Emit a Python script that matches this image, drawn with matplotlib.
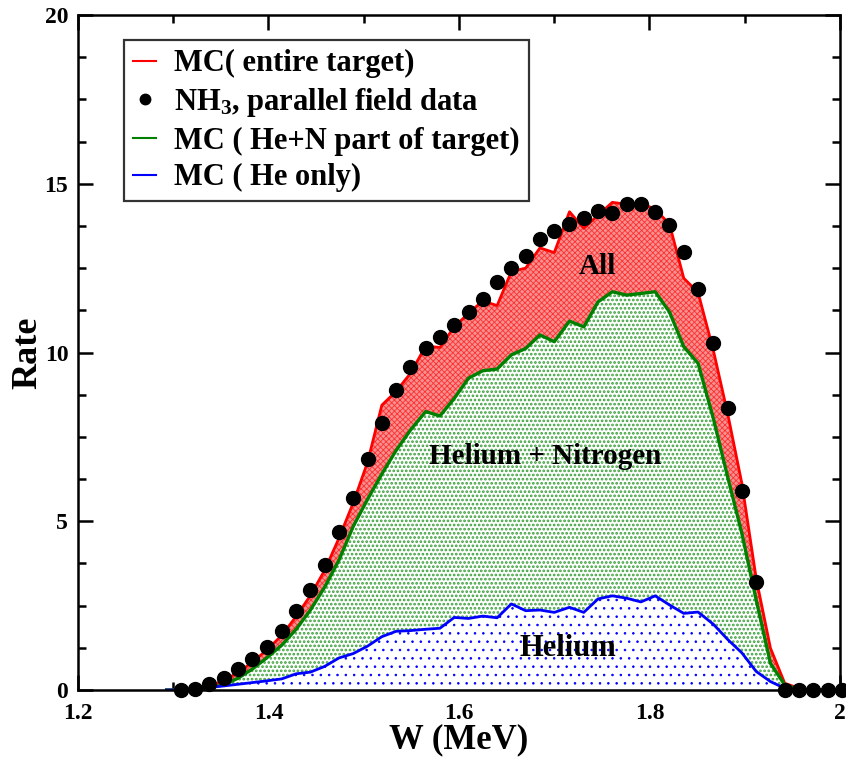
import numpy as np
import matplotlib.pyplot as plt
from matplotlib.ticker import MultipleLocator, FixedLocator, FixedFormatter

plt.rcParams['font.family'] = ['Liberation Serif', 'DejaVu Serif']
plt.rcParams['font.weight'] = 'bold'
plt.rcParams['mathtext.fontset'] = 'custom'
plt.rcParams['mathtext.rm'] = 'Liberation Serif:bold'
plt.rcParams['mathtext.bf'] = 'Liberation Serif:bold'
plt.rcParams['mathtext.default'] = 'rm'
plt.rcParams['hatch.linewidth'] = 0.6

# NH3 parallel field data
w_data = [1.308, 1.323, 1.338, 1.353, 1.368, 1.383, 1.398, 1.414, 1.429, 1.444,
          1.459, 1.474, 1.489, 1.504, 1.519, 1.534, 1.549, 1.565, 1.580, 1.595,
          1.610, 1.625, 1.640, 1.655, 1.670, 1.685, 1.700, 1.716, 1.731, 1.746,
          1.761, 1.776, 1.791, 1.806, 1.821, 1.836, 1.851, 1.867, 1.882, 1.897,
          1.912, 1.942, 1.957, 1.972, 1.987, 2.002]
rate_data = [0.0, 0.04, 0.18, 0.35, 0.61, 0.91, 1.28, 1.75, 2.33, 2.96,
             3.69, 4.68, 5.69, 6.83, 7.92, 8.89, 9.57, 10.12, 10.45, 10.82,
             11.21, 11.58, 12.09, 12.51, 12.85, 13.35, 13.61, 13.81, 14.0, 14.2,
             14.14, 14.4, 14.4, 14.17, 13.78, 12.97, 11.88, 10.27, 8.36, 5.89,
             3.19, 0.0, 0.0, 0.0, 0.0, 0.0]

# Monte Carlo, same binning
w_mc = [1.293, 1.308, 1.323, 1.338, 1.353, 1.368, 1.383, 1.398, 1.414, 1.429, 1.444,
        1.459, 1.474, 1.489, 1.504, 1.519, 1.534, 1.549, 1.565, 1.580, 1.595,
        1.610, 1.625, 1.640, 1.655, 1.670, 1.685, 1.700, 1.716, 1.731, 1.746,
        1.761, 1.776, 1.791, 1.806, 1.821, 1.836, 1.851, 1.867, 1.882, 1.897,
        1.912, 1.927, 1.942, 1.957, 1.972, 1.987, 2.0]
mc_all = [0.0, 0.0, 0.03, 0.12, 0.28, 0.52, 0.82, 1.18, 1.62, 2.18, 2.8,
          3.55, 4.5, 5.55, 6.75, 8.44, 8.85, 9.38, 10.19, 10.15, 10.76,
          11.16, 11.53, 11.39, 12.4, 12.5, 13.1, 12.96, 14.17, 13.68, 14.07,
          14.45, 14.39, 14.42, 14.25, 13.8, 12.2, 11.78, 10.07, 8.2, 6.12,
          3.31, 1.24, 0.2, 0.05, 0.0, 0.0, 0.0]
mc_hen = [0.0, 0.0, 0.02, 0.07, 0.15, 0.35, 0.62, 0.95, 1.33, 1.8, 2.37,
          3.05, 3.85, 4.85, 5.65, 6.4, 7.1, 7.7, 8.25, 8.12, 8.64,
          9.24, 9.46, 9.51, 9.93, 10.12, 10.52, 10.32, 10.93, 10.76, 11.5,
          11.8, 11.7, 11.75, 11.8, 11.2, 10.17, 9.68, 8.05, 6.32, 4.64,
          2.67, 0.79, 0.15, 0.02, 0.0, 0.0, 0.0]
mc_he = [0.0, 0.0, 0.03, 0.08, 0.12, 0.17, 0.22, 0.27, 0.33, 0.48, 0.53,
         0.7, 0.95, 1.08, 1.3, 1.58, 1.74, 1.76, 1.8, 1.83, 2.15,
         2.12, 2.19, 2.14, 2.55, 2.35, 2.37, 2.3, 2.45, 2.3, 2.7,
         2.79, 2.72, 2.61, 2.79, 2.52, 2.27, 2.31, 1.95, 1.5, 1.1,
         0.55, 0.25, 0.05, 0.0, 0.0, 0.0, 0.0]

fig = plt.figure(figsize=(8.46, 7.58), dpi=100)
ax = fig.add_axes([0.0922, 0.0897, 0.9007, 0.8905])

ax.fill_between(w_mc, 0, mc_all, facecolor='#f59090', edgecolor='#ff3030',
                hatch='xxxxxx', linewidth=0, zorder=1)
with plt.rc_context({'hatch.linewidth': 1.3}):
    ax.fill_between(w_mc, 0, mc_hen, facecolor='white', edgecolor='#3aa03a',
                    hatch='....', linewidth=0, zorder=2)
ax.fill_between(w_mc, 0, mc_he, facecolor='white', edgecolor='blue',
                hatch='..', linewidth=0, zorder=3)

ax.plot(w_mc, mc_all, color='red', lw=2.0, label='MC( entire target)', zorder=4)
ax.plot(w_data, rate_data, 'o', color='black', ms=10, clip_on=False,
        label=r'NH$_3$, parallel field data', zorder=7)
ax.plot(w_mc, mc_hen, color='green', lw=2.4, label='MC ( He+N part of target)', zorder=5)
ax.plot(w_mc, mc_he, color='blue', lw=2.0, label='MC ( He only)', zorder=6)

ax.text(1.745, 12.55, 'All', fontsize=21, fontweight='bold', ha='center', va='center', zorder=8)
ax.text(1.691, 6.93, 'Helium + Nitrogen', fontsize=21, fontweight='bold',
        ha='center', va='center', zorder=8)
ax.text(1.714, 1.24, 'Helium', fontsize=22, fontweight='bold', ha='center', va='center', zorder=8)

ax.set_xlim(1.2, 2.0)
ax.set_ylim(0, 20)
ax.xaxis.set_major_locator(FixedLocator([1.2, 1.4, 1.6, 1.8, 2.0]))
ax.xaxis.set_major_formatter(FixedFormatter(['1.2', '1.4', '1.6', '1.8', '2']))
ax.xaxis.set_minor_locator(MultipleLocator(0.1))
ax.yaxis.set_major_locator(MultipleLocator(5))
ax.yaxis.set_minor_locator(MultipleLocator(1.25))
ax.tick_params(which='both', direction='in', top=True, right=True, width=1.8,
               labelsize=17)
ax.tick_params(axis='x', pad=9)
ax.tick_params(axis='y', pad=7)
ax.tick_params(which='major', length=11)
ax.tick_params(which='minor', length=6)
for sp in ax.spines.values():
    sp.set_linewidth(1.8)
    sp.set_zorder(9)

ax.set_xlabel('W (MeV)', fontsize=25, fontweight='bold', labelpad=0)
ax.set_ylabel('Rate', fontsize=26, fontweight='bold', labelpad=0)

leg = ax.legend(loc='upper left', bbox_to_anchor=(124 / 846, 1 - 40 / 758),
                bbox_transform=fig.transFigure, fontsize=22, frameon=True,
                fancybox=False, handlelength=0.75, handletextpad=0.6,
                borderpad=0.3, labelspacing=0.25, borderaxespad=0,
                markerscale=0.75)
leg.get_frame().set_edgecolor('black')
leg.get_frame().set_linewidth(1.6)
for h in leg.legend_handles:
    h.set_linewidth(1.5)
leg.set_zorder(10)

fig.savefig('out.png', dpi=100)
